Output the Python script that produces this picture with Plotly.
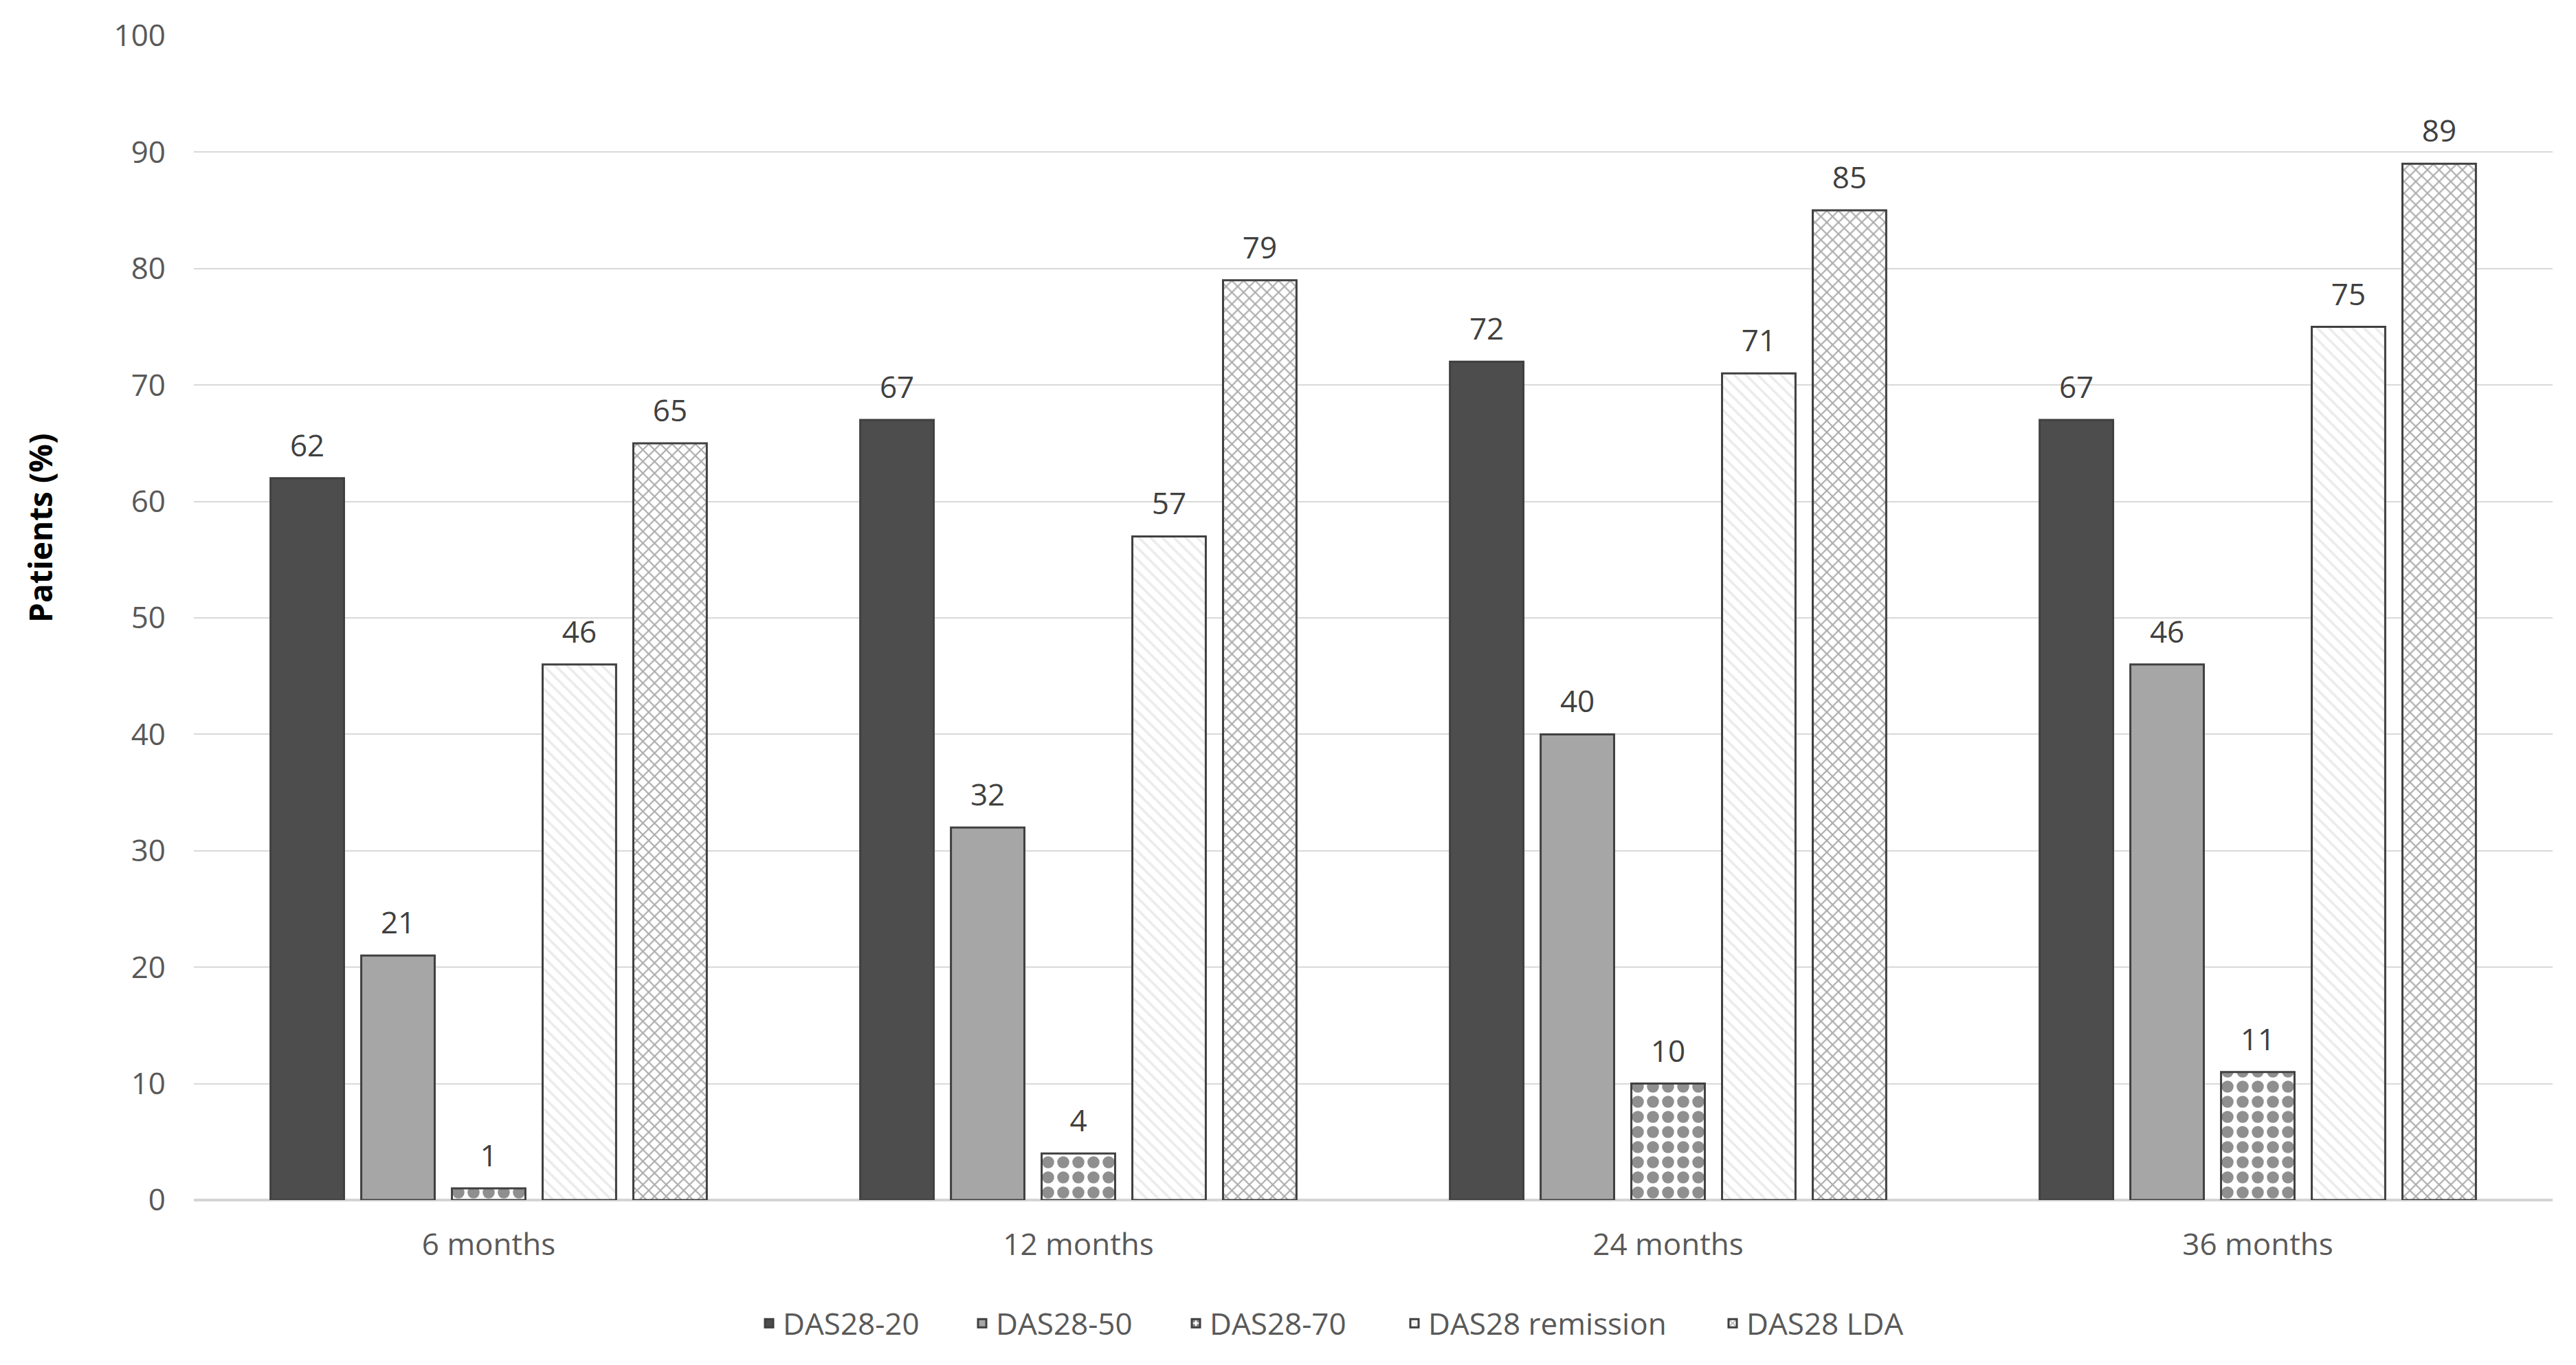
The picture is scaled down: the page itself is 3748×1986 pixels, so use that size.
import plotly.graph_objects as go

categories = ["6 months", "12 months", "24 months", "36 months"]
series_names = ["DAS28-20", "DAS28-50", "DAS28-70", "DAS28 remission", "DAS28 LDA"]
das28_20 = [62, 67, 72, 67]
das28_50 = [21, 32, 40, 46]
das28_70 = [1, 4, 10, 11]
das28_remission = [46, 57, 71, 75]
das28_lda = [65, 79, 85, 89]
y_ticks = [0, 10, 20, 30, 40, 50, 60, 70, 80, 90, 100]

series_values = [das28_20, das28_50, das28_70, das28_remission, das28_lda]

FONT = "Open Sans"
W, H = 3748, 1986
ML, MR, MT, MB = 274, 42, 33, 248
PW = W - ML - MR
PH = H - MT - MB

styles = [
    dict(color="#4d4d4d", pattern=dict(shape="")),
    dict(color="#a6a6a6", pattern=dict(shape="")),
    dict(color="#ffffff", pattern=dict(shape=".", fgcolor="#8f8f8f", bgcolor="#ffffff",
                                       size=22, solidity=0.5, fillmode="replace")),
    dict(color="#ffffff", pattern=dict(shape="\\", fgcolor="#ebebeb", bgcolor="#ffffff",
                                       size=12, solidity=0.3, fillmode="replace")),
    dict(color="#ffffff", pattern=dict(shape="x", fgcolor="#ababab", bgcolor="#ffffff",
                                       size=12, solidity=0.32, fillmode="replace")),
]

# pixel x where each legend entry's text starts (legend layout only)
legend_text_px = [1131, 1441, 1752, 2070, 2533]
legend_ids = ["legend", "legend2", "legend3", "legend4", "legend5"]

fig = go.Figure()
for i, (name, vals) in enumerate(zip(series_names, series_values)):
    st = styles[i]
    fig.add_trace(go.Bar(
        x=categories, y=vals, name=name, offsetgroup=str(i), legend=legend_ids[i],
        marker=dict(color=st["color"], pattern=st["pattern"],
                    line=dict(color="#404040", width=3)),
        hoverinfo="x+y+name",
    ))
for i, (name, vals) in enumerate(zip(series_names, series_values)):
    fig.add_trace(go.Scatter(
        x=categories, y=vals, mode="markers+text", offsetgroup=str(i),
        text=[str(v) for v in vals], textposition="top center",
        textfont=dict(family=FONT, size=44, color="#404040"),
        marker=dict(size=32, color="rgba(0,0,0,0)"),
        showlegend=False, hoverinfo="skip", cliponaxis=False,
    ))

legend_y = -0.106
legend_layouts = {}
for i, lid in enumerate(legend_ids):
    legend_layouts[lid] = dict(
        orientation="h", x=(legend_text_px[i] - 40 - ML) / PW, xanchor="left",
        y=legend_y, yanchor="middle",
        font=dict(family=FONT, size=44, color="#595959"),
        bgcolor="rgba(0,0,0,0)",
    )

fig.update_layout(
    width=W, height=H,
    margin=dict(l=ML, r=MR, t=MT, b=MB),
    paper_bgcolor="white", plot_bgcolor="white",
    barmode="group", bargap=0.231, bargroupgap=0.19,
    scattermode="group", scattergap=0.231,
    font=dict(family=FONT, size=44, color="#595959"),
    showlegend=True,
    xaxis=dict(
        showgrid=False, showline=False, ticks="",
        tickfont=dict(family=FONT, size=44, color="#595959"),
        ticklabelstandoff=35,
    ),
    yaxis=dict(
        range=[0, 100], tickvals=y_ticks, showline=False, ticks="",
        gridcolor="#d9d9d9", gridwidth=2,
        zeroline=True, zerolinecolor="#d4d4d4", zerolinewidth=4,
        tickfont=dict(family=FONT, size=44, color="#595959"),
        ticklabelstandoff=40,
    ),
    annotations=[dict(
        text="<b>Patients (%)</b>", textangle=-90,
        xref="paper", yref="paper", x=(50 - ML) / PW, y=(H - MB - 895) / PH,
        xanchor="center", yanchor="bottom", showarrow=False,
        font=dict(family=FONT, size=46, color="#000000"),
    )],
    **legend_layouts,
)

fig.write_html("out.html")
